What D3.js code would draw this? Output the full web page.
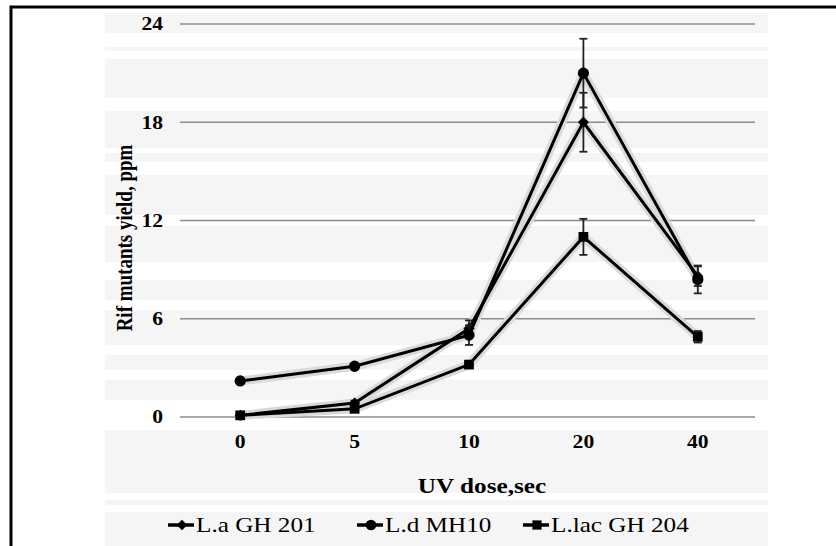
<!DOCTYPE html>
<html>
<head>
<meta charset="utf-8">
<script src="https://cdn.jsdelivr.net/npm/d3@7"></script>
<style>
  body { margin: 0; background: #fff; }
  svg { display: block; font-family: "Liberation Serif", "DejaVu Serif", serif; }
</style>
</head>
<body>
<svg width="836" height="546"></svg>
<script>
// UV dose categories (sec)
var doses = ["0", "5", "10", "20", "40"];
var yTicks = [0, 6, 12, 18, 24];

// series: mean Rif mutants yield (ppm) and error
var seriesNames = ["L.a GH 201", "L.d MH10", "L.lac GH 204"];
var laGH201 = [0.1, 0.85, 5.4, 18, 8.6];
var laGH201Err = [0.1, 0.15, 0.5, 1.8, 0.6];
var ldMH10 = [2.2, 3.1, 5.0, 21, 8.4];
var ldMH10Err = [0.1, 0.15, 0.6, 2.1, 0.85];
var lacGH204 = [0.1, 0.5, 3.2, 11, 4.9];
var lacGH204Err = [0.05, 0.1, 0.15, 1.1, 0.35];

// faint scan stripes behind the chart (decoration only)
var stripes = [[13,33],[47,51],[59,98],[111,148],[153,162],[175,215],[226,262],[280,300],
               [310,345],[355,370],[380,400],[430,493],[500,505],[512,546]];

var svg = d3.select("svg"),
    width = +svg.attr("width"),
    height = +svg.attr("height");

var stretch = 1.2; // the picture is a bit wider than tall

svg.append("g").selectAll("rect")
    .data(stripes)
    .enter().append("rect")
    .attr("x", 105).attr("width", 663)
    .attr("y", function(d) { return d[0]; })
    .attr("height", function(d) { return d[1] - d[0]; })
    .attr("fill", "#f5f5f5");

// outer frame (runs off the right and bottom edge)
svg.append("rect")
    .attr("x", 11).attr("y", 7)
    .attr("width", width + 20).attr("height", height + 20)
    .attr("fill", "none")
    .attr("stroke", "#000")
    .attr("stroke-width", 3);

var x = d3.scaleBand().domain(doses).range([183, 755]);
var y = d3.scaleLinear().domain([0, 24]).range([417, 24]);
var cx = function(d) { return x(d) + x.bandwidth() / 2; };

// gridlines
svg.append("g").selectAll("line")
    .data(yTicks)
    .enter().append("line")
    .attr("x1", 180).attr("x2", 755)
    .attr("y1", function(d) { return y(d); })
    .attr("y2", function(d) { return y(d); })
    .attr("stroke", "#8c8c8c")
    .attr("stroke-width", 1.5);

// y tick labels
svg.append("g")
    .attr("font-size", 18).attr("font-weight", "bold")
    .selectAll("text")
    .data(yTicks)
    .enter().append("text")
    .attr("transform", function(d) { return "translate(163," + y(d) + ") scale(" + stretch + ",1)"; })
    .attr("dy", "0.35em")
    .attr("text-anchor", "end")
    .text(function(d) { return d; });

// x tick labels
svg.append("g")
    .attr("font-size", 18).attr("font-weight", "bold")
    .selectAll("text")
    .data(doses)
    .enter().append("text")
    .attr("transform", function(d) { return "translate(" + cx(d) + ",442) scale(" + stretch + ",1)"; })
    .attr("dy", "0.35em")
    .attr("text-anchor", "middle")
    .text(function(d) { return d; });

svg.append("text")
    .attr("transform", "translate(482,486) scale(" + stretch + ",1)")
    .attr("dy", "0.35em")
    .attr("text-anchor", "middle")
    .attr("font-size", 21).attr("font-weight", "bold")
    .text("UV dose,sec");

svg.append("text")
    .attr("transform", "translate(124,238) scale(" + stretch + ",1) rotate(-90)")
    .attr("dy", "0.35em")
    .attr("text-anchor", "middle")
    .attr("font-size", 19).attr("font-weight", "bold")
    .text("Rif mutants yield, ppm");

var series = [
    { name: seriesNames[0], values: laGH201, err: laGH201Err, shape: d3.symbolDiamond2, size: 80 },
    { name: seriesNames[1], values: ldMH10, err: ldMH10Err, shape: d3.symbolCircle, size: 100 },
    { name: seriesNames[2], values: lacGH204, err: lacGH204Err, shape: d3.symbolSquare, size: 95 }
];

var line = d3.line()
    .x(function(d, i) { return cx(doses[i]); })
    .y(function(d) { return y(d); });

// soft grey halo like the scan
series.forEach(function(s) {
    svg.append("path")
        .attr("d", line(s.values))
        .attr("fill", "none")
        .attr("stroke", "#dadada")
        .attr("stroke-width", 9);
});

series.forEach(function(s) {
    var g = svg.append("g");
    // error bars
    var eb = g.selectAll("g.err")
        .data(s.values.map(function(v, i) { return { d: doses[i], v: v, e: s.err[i] }; }))
        .enter().append("g")
        .attr("stroke", "#222")
        .attr("stroke-width", 1.8);
    eb.append("line")
        .attr("x1", function(d) { return cx(d.d); })
        .attr("x2", function(d) { return cx(d.d); })
        .attr("y1", function(d) { return y(d.v - d.e); })
        .attr("y2", function(d) { return y(d.v + d.e); });
    eb.append("line")
        .attr("x1", function(d) { return cx(d.d) - 4; })
        .attr("x2", function(d) { return cx(d.d) + 4; })
        .attr("y1", function(d) { return y(d.v + d.e); })
        .attr("y2", function(d) { return y(d.v + d.e); });
    eb.append("line")
        .attr("x1", function(d) { return cx(d.d) - 4; })
        .attr("x2", function(d) { return cx(d.d) + 4; })
        .attr("y1", function(d) { return y(d.v - d.e); })
        .attr("y2", function(d) { return y(d.v - d.e); });

    g.append("path")
        .attr("d", line(s.values))
        .attr("fill", "none")
        .attr("stroke", "#000")
        .attr("stroke-width", 3);

    g.selectAll("path.pt")
        .data(s.values)
        .enter().append("path")
        .attr("class", "pt")
        .attr("transform", function(d, i) { return "translate(" + cx(doses[i]) + "," + y(d) + ")"; })
        .attr("d", d3.symbol().type(s.shape).size(s.size))
        .attr("fill", "#000");
});

// legend
var legendX = [168, 357, 523];
var legend = svg.append("g")
    .attr("font-size", 21)
    .selectAll("g")
    .data(series)
    .enter().append("g")
    .attr("transform", function(d, i) { return "translate(" + legendX[i] + ",525)"; });

legend.append("line")
    .attr("x1", 0).attr("x2", 26)
    .attr("stroke", "#000").attr("stroke-width", 3.5);
legend.append("path")
    .attr("transform", "translate(14,0)")
    .attr("d", function(d) { return d3.symbol().type(d.shape).size(d.size * 0.9)(); })
    .attr("fill", "#000");
legend.append("text")
    .attr("transform", "translate(28,0) scale(" + stretch + ",1)")
    .attr("dy", "0.35em")
    .text(function(d) { return d.name; });
</script>
</body>
</html>
